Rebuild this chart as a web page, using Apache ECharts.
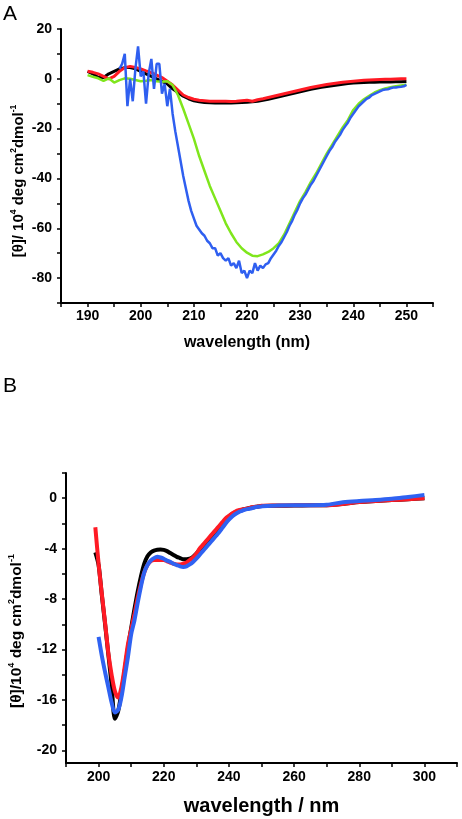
<!DOCTYPE html>
<html>
<head>
<meta charset="utf-8">
<script src="https://cdn.jsdelivr.net/npm/echarts@6/dist/echarts.min.js"></script>
<style>
html,body{margin:0;padding:0;background:#fff;}
#c{width:462px;height:819px;}
</style>
</head>
<body>
<div id="c"></div>
<script>
// ---------- Panel A data ----------
const wlA = [190,191,192,193,194,195,196,197,198,199,200,201,202,203,204,205,206,207,208,209,210,211,212,213,214,215,216,217,218,219,220,221,222,223,224,225,226,227,228,229,230,231,232,233,234,235,236,237,238,239,240,241,242,243,244,245,246,247,248,249,250];
const blackA = [3,2,0.5,0.5,2,3,4,4.5,4.5,4, 3,2,1,0,-1,-2,-4,-5.5,-7,-8, -8.8,-9.2,-9.5,-9.6,-9.7,-9.7,-9.7,-9.7,-9.6,-9.5, -9.4,-9.2,-9,-8.6,-8.2,-7.7,-7.2,-6.7,-6.2,-5.7, -5.2,-4.7,-4.2,-3.8,-3.4,-3.1,-2.8,-2.5,-2.2,-1.9, -1.7,-1.6,-1.5,-1.4,-1.35,-1.3,-1.3,-1.25,-1.2,-1.2, -1.1];
const redA = [3,2.6,2,1,0,1,3,4.5,5,4.6, 4,3.2,2.5,1.5,0.5,-1,-2.5,-4.5,-6.5,-7.5, -8.2,-8.6,-8.8,-9,-9,-9,-9,-9.1,-9,-8.8, -8.6,-9,-8.4,-8,-7.5,-7,-6.5,-6,-5.5,-5, -4.5,-4,-3.5,-3.1,-2.7,-2.3,-2,-1.7,-1.4,-1.2, -1,-0.8,-0.6,-0.5,-0.4,-0.3,-0.2,-0.2,-0.1,0, 0];
const greenA = [1.5,0.8,0.2,-0.8,0.2,-1.5,-0.5,0.2,0,-0.5, -1,-0.8,-0.5,-1,-1.2,-1,-2.5,-6.5,-12,-18, -24,-31,-37,-43,-48,-53,-58,-62,-65.5,-68, -69.8,-71,-71.2,-70.5,-69.5,-68,-66,-62.5,-58,-53.5, -49,-45.5,-41.5,-38,-34,-30,-26.5,-23,-19.5,-16.5, -12.5,-10,-8.2,-6.8,-5.5,-4.6,-3.9,-3.4,-3,-2.7, -2.4];
const wlBlueA = [196,196.5,197,197.5,198,198.5,199,199.5,200,200.5,201,201.5,202,202.5,203,203.5,204,204.5,205,205.5,206,206.5,207,207.5,208,208.5,209,209.5,210,210.5,211,211.5,212,212.5,213,213.5,214,214.5,215,215.5,216,216.5,217,217.5,218,218.5,219,219.5,220,220.5,221,221.5,222,222.5,223,223.5,224,224.5,225,225.5,226,226.5,227,227.5,228,228.5,229,229.5,230,230.5,231,231.5,232,232.5,233,233.5,234,234.5,235,235.5,236,236.5,237,237.5,238,238.5,239,239.5,240,240.5,241,241.5,242,242.5,243,243.5,244,244.5,245,245.5,246,246.5,247,247.5,248,248.5,249,249.5,250];
const blueA = [4,6,10,-11,0,-9,4,13,1,3, -10,2,8,-4,6,6,-6,-2,-11,-4, -14,-21,-27,-33,-39,-44,-49,-53,-56,-59, -60.5,-62,-63,-65,-66,-68,-68,-71,-70,-72, -73,-72,-75,-74,-76,-73,-78,-77,-80,-77, -78,-74,-77,-75,-76,-74.5,-74,-72,-70.5,-69, -67,-65.5,-63.5,-61.5,-59,-57,-54.5,-52.5,-50,-48, -46.5,-44.5,-42.5,-41,-39,-37,-35,-33,-31,-29, -27.5,-25.5,-24,-22.5,-20.5,-19,-17.5,-15.5,-14,-12.5, -11,-10,-9,-8,-7.5,-6.5,-6,-5.5,-5,-4.5, -4.3,-4.2,-3.8,-3.5,-3.5,-3.3,-3.2,-3,-2.4];
const xTicksA = ['190','200','210','220','230','240','250'];
const yTicksA = ['20','0','-20','-40','-60','-80'];

// ---------- Panel B data ----------
const wlB = [199,200,201,202,203,204,205,206,207,208,209,210,211,212,213,214,215,216,217,218,219,220,221,222,223,224,225,226,227,228,229,230,231,232,233,234,235,236,237,238,239,240,241,242,243,244,245,246,247,248,249,250,255,260,265,270,275,280,285,290,295,300];
const blackB = [-4.3,-5.3,-7.7,-10,-12.4,-14.8,-17.5,-16.9,-15.4,-13.7, -11.9,-10.3,-8.8,-7.4,-6.2,-5.2,-4.6,-4.3,-4.15,-4.08, -4.07,-4.1,-4.2,-4.35,-4.5,-4.65,-4.75,-4.85,-4.85,-4.8, -4.65,-4.4,-4.1,-3.8,-3.5,-3.2,-2.9,-2.6,-2.3,-2.0, -1.7,-1.45,-1.25,-1.1,-1.0,-0.92,-0.86,-0.8,-0.74,-0.7, -0.66,-0.62, -0.6,-0.58,-0.56,-0.55,-0.45,-0.3,-0.22,-0.15,-0.08,0];
const redB = [-2.3,-5.2,-7.6,-9.9,-12.3,-14,-15.3,-15.8,-15,-13.4, -11.6,-10.4,-9.2,-7.9,-6.8,-5.9,-5.3,-5.0,-4.9,-4.9, -4.9,-4.9,-5.0,-5.1,-5.2,-5.25,-5.25,-5.2,-5.1,-4.9, -4.7,-4.4,-4.0,-3.7,-3.4,-3.1,-2.8,-2.5,-2.2,-1.9, -1.6,-1.4,-1.2,-1.05,-0.95,-0.9,-0.85,-0.8,-0.72,-0.68, -0.65,-0.6, -0.58,-0.56,-0.55,-0.55,-0.45,-0.3,-0.22,-0.15,-0.08,0];
const wlBlueB = [200,201,202,203,204,205,206,207,208,209,210,211,212,213,214,215,216,217,218,219,220,221,222,223,224,225,226,227,228,229,230,231,232,233,234,235,236,237,238,239,240,241,242,243,244,245,246,247,248,249,250,255,260,265,270,275,280,285,290,295,300];
const blueB = [-11,-12.5,-13.8,-15,-16.2,-17,-16.8,-15.8,-14.2,-12.6, -10.8,-9.7,-8.3,-7.0,-5.9,-5.3,-4.95,-4.75,-4.65,-4.7, -4.8,-4.95,-5.05,-5.2,-5.3,-5.4,-5.45,-5.4,-5.25,-5.05, -4.8,-4.5,-4.2,-3.9,-3.6,-3.3,-3.0,-2.7,-2.35,-2.0, -1.7,-1.45,-1.25,-1.1,-1.0,-0.9,-0.85,-0.8,-0.72,-0.68, -0.65, -0.57,-0.55,-0.55,-0.52,-0.32,-0.22,-0.15,-0.05,0.1,0.25];
const xTicksB = ['200','220','240','260','280','300'];
const yTicksB = ['0','-4','-8','-12','-16','-20'];

// ---------- build ----------
const F = "'Liberation Sans', Arial, sans-serif";
const pairs = (xs, ys) => xs.map((x, i) => [x, ys[i]]);
const labA_x = xTicksA.map(Number), labA_y = yTicksA.map(Number);
const labB_x = xTicksB.map(Number), labB_y = yTicksB.map(Number);

const axisCommon = {
  axisLine: {show: true, onZero: false, lineStyle: {color: '#000', width: 2}},
  axisTick: {show: true, length: 4, lineStyle: {color: '#000', width: 1.5}},
  splitLine: {show: false},
};
const labelStyle = {color: '#000', fontFamily: F, fontWeight: 'bold', fontSize: 14};
const titleRich = (size, sup) => ({
  b: {fontSize: size, fontWeight: 'bold', fontFamily: F, fill: '#000', lineHeight: size + 4},
  s: {fontSize: sup, fontWeight: 'bold', fontFamily: F, fill: '#000', verticalAlign: 'top', lineHeight: sup}
});

const option = {
  animation: false,
  backgroundColor: '#fff',
  graphic: [
    {type: 'text', left: 3, top: 4, style: {text: 'A', fontFamily: F, fontSize: 21, fill: '#000'}},
    {type: 'text', left: 3, top: 376, style: {text: 'B', fontFamily: F, fontSize: 21, fill: '#000'}},
    {type: 'text', x: 19, y: 181, rotation: Math.PI / 2,
      style: {text: '{b|[θ]/ 10}{s|4}{b| deg cm}{s|2}{b|dmol}{s|-1}', rich: titleRich(15, 8.5),
        align: 'center', verticalAlign: 'middle'}},
    {type: 'text', x: 17, y: 631, rotation: Math.PI / 2,
      style: {text: '{b|[θ]/10}{s|4}{b| deg cm}{s|2}{b|dmol}{s|-1}', rich: titleRich(15.5, 9),
        align: 'center', verticalAlign: 'middle'}}
  ],
  grid: [
    {left: 61, top: 29, width: 372, height: 274, containLabel: false},
    {left: 66, top: 473, width: 391, height: 290, containLabel: false}
  ],
  xAxis: [
    Object.assign({}, axisCommon, {
      type: 'value', gridIndex: 0, min: 185, max: 255, interval: 5,
      axisLabel: Object.assign({}, labelStyle, {margin: 6,
        formatter: v => (labA_x.indexOf(v) >= 0 ? String(v) : '')}),
      name: 'wavelength (nm)', nameLocation: 'middle', nameGap: 32,
      nameTextStyle: {fontFamily: F, fontWeight: 'bold', fontSize: 16, color: '#000'}
    }),
    Object.assign({}, axisCommon, {
      type: 'value', gridIndex: 1, min: 190, max: 310, interval: 10,
      axisLabel: Object.assign({}, labelStyle, {margin: 7,
        formatter: v => (labB_x.indexOf(v) >= 0 ? String(v) : '')}),
      name: 'wavelength / nm', nameLocation: 'middle', nameGap: 33,
      nameTextStyle: {fontFamily: F, fontWeight: 'bold', fontSize: 20, color: '#000'}
    })
  ],
  yAxis: [
    Object.assign({}, axisCommon, {
      type: 'value', gridIndex: 0, min: -90, max: 20, interval: 10,
      axisLabel: Object.assign({}, labelStyle, {margin: 9,
        formatter: v => (labA_y.indexOf(v) >= 0 ? String(v) : '')})
    }),
    Object.assign({}, axisCommon, {
      type: 'value', gridIndex: 1, min: -21, max: 2,
      axisTick: {show: true, length: 4, lineStyle: {color: '#000', width: 1.5},
        customValues: [2,0,-2,-4,-6,-8,-10,-12,-14,-16,-18,-20]},
      axisLabel: Object.assign({}, labelStyle, {margin: 9, customValues: labB_y})
    })
  ],
  series: [
    {type: 'line', xAxisIndex: 0, yAxisIndex: 0, data: pairs(wlA, blackA), showSymbol: false, lineStyle: {color: '#000', width: 3}, z: 2},
    {type: 'line', xAxisIndex: 0, yAxisIndex: 0, data: pairs(wlA, redA), showSymbol: false, lineStyle: {color: '#ff1a24', width: 3}, z: 3},
    {type: 'line', xAxisIndex: 0, yAxisIndex: 0, data: pairs(wlA, greenA), showSymbol: false, lineStyle: {color: '#7fe61c', width: 2.5}, z: 4},
    {type: 'line', xAxisIndex: 0, yAxisIndex: 0, data: pairs(wlBlueA, blueA), showSymbol: false, lineStyle: {color: '#2f5ff0', width: 2.5}, z: 5},
    {type: 'line', xAxisIndex: 1, yAxisIndex: 1, data: pairs(wlB, blackB), showSymbol: false, smooth: 0.3, lineStyle: {color: '#000', width: 4}, z: 2},
    {type: 'line', xAxisIndex: 1, yAxisIndex: 1, data: pairs(wlB, redB), showSymbol: false, smooth: 0.3, lineStyle: {color: '#ff1a24', width: 4}, z: 3},
    {type: 'line', xAxisIndex: 1, yAxisIndex: 1, data: pairs(wlBlueB, blueB), showSymbol: false, smooth: 0.3, lineStyle: {color: '#2f62f2', width: 4}, z: 4}
  ]
};
const chart = echarts.init(document.getElementById('c'), null, {renderer: 'canvas'});
chart.setOption(option);
</script>
</body>
</html>
